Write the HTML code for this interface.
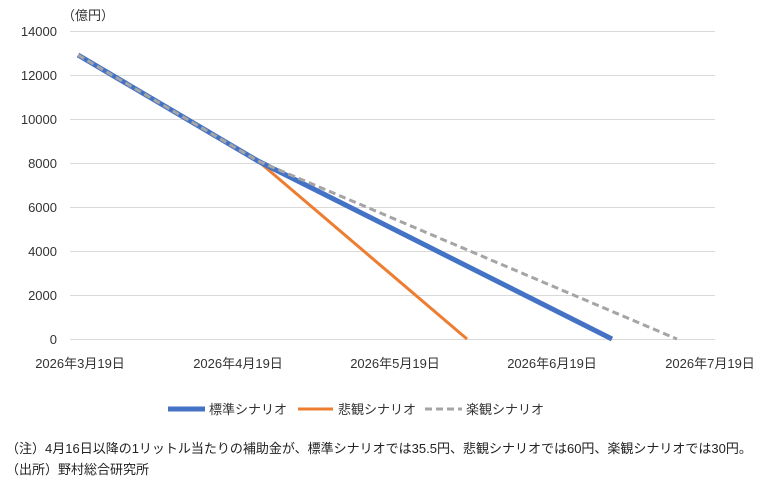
<!DOCTYPE html>
<html><head><meta charset="utf-8"><style>
body{margin:0;background:#fff;width:762px;height:483px;overflow:hidden;font-family:"Liberation Sans","Noto Sans CJK JP",sans-serif;}
</style></head><body>
<svg width="762" height="483" xmlns="http://www.w3.org/2000/svg" style="font-family:'Liberation Sans','Noto Sans CJK JP',sans-serif">
<g stroke="#d9d9d9" stroke-width="1">
<line x1="70" y1="31.5" x2="715" y2="31.5"/>
<line x1="70" y1="75.5" x2="715" y2="75.5"/>
<line x1="70" y1="119.5" x2="715" y2="119.5"/>
<line x1="70" y1="163.5" x2="715" y2="163.5"/>
<line x1="70" y1="207.5" x2="715" y2="207.5"/>
<line x1="70" y1="251.5" x2="715" y2="251.5"/>
<line x1="70" y1="295.5" x2="715" y2="295.5"/>
<line x1="70" y1="339.5" x2="715" y2="339.5"/>
</g>
<g font-size="13" fill="#333" text-anchor="end">
<text x="57" y="36">14000</text><text x="57" y="80">12000</text><text x="57" y="124">10000</text>
<text x="57" y="168">8000</text><text x="57" y="212">6000</text><text x="57" y="256">4000</text>
<text x="57" y="300">2000</text><text x="57" y="344">0</text>
</g>
<text x="62" y="20" font-size="13" fill="#333">（億円）</text>
<g font-size="13" fill="#333" text-anchor="middle">
<text x="80" y="368">2026年3月19日</text><text x="238" y="368">2026年4月19日</text>
<text x="395" y="368">2026年5月19日</text><text x="552" y="368">2026年6月19日</text>
<text x="710" y="368">2026年7月19日</text>
</g>
<polyline points="258,161 467,339" fill="none" stroke="#ed7d31" stroke-width="3"/>
<polyline points="78,55 258,161 612,339" fill="none" stroke="#4472c4" stroke-width="5"/>
<polyline points="78,55 258,161 677,339" fill="none" stroke="#a5a5a5" stroke-width="3" stroke-dasharray="7,4"/>
<line x1="168" y1="409" x2="205" y2="409" stroke="#4472c4" stroke-width="5"/>
<text x="209" y="414" font-size="13" fill="#333">標準シナリオ</text>
<line x1="298" y1="409" x2="333" y2="409" stroke="#ed7d31" stroke-width="3"/>
<text x="338" y="414" font-size="13" fill="#333">悲観シナリオ</text>
<line x1="425" y1="409" x2="462" y2="409" stroke="#a5a5a5" stroke-width="3" stroke-dasharray="7,4"/>
<text x="466" y="414" font-size="13" fill="#333">楽観シナリオ</text>
<text x="6" y="453" font-size="13" fill="#222">（注）4月16日以降の1リットル当たりの補助金が、標準シナリオでは35.5円、悲観シナリオでは60円、楽観シナリオでは30円。</text>
<text x="6" y="474" font-size="13" fill="#222">（出所）野村総合研究所</text>
</svg>
</body></html>
